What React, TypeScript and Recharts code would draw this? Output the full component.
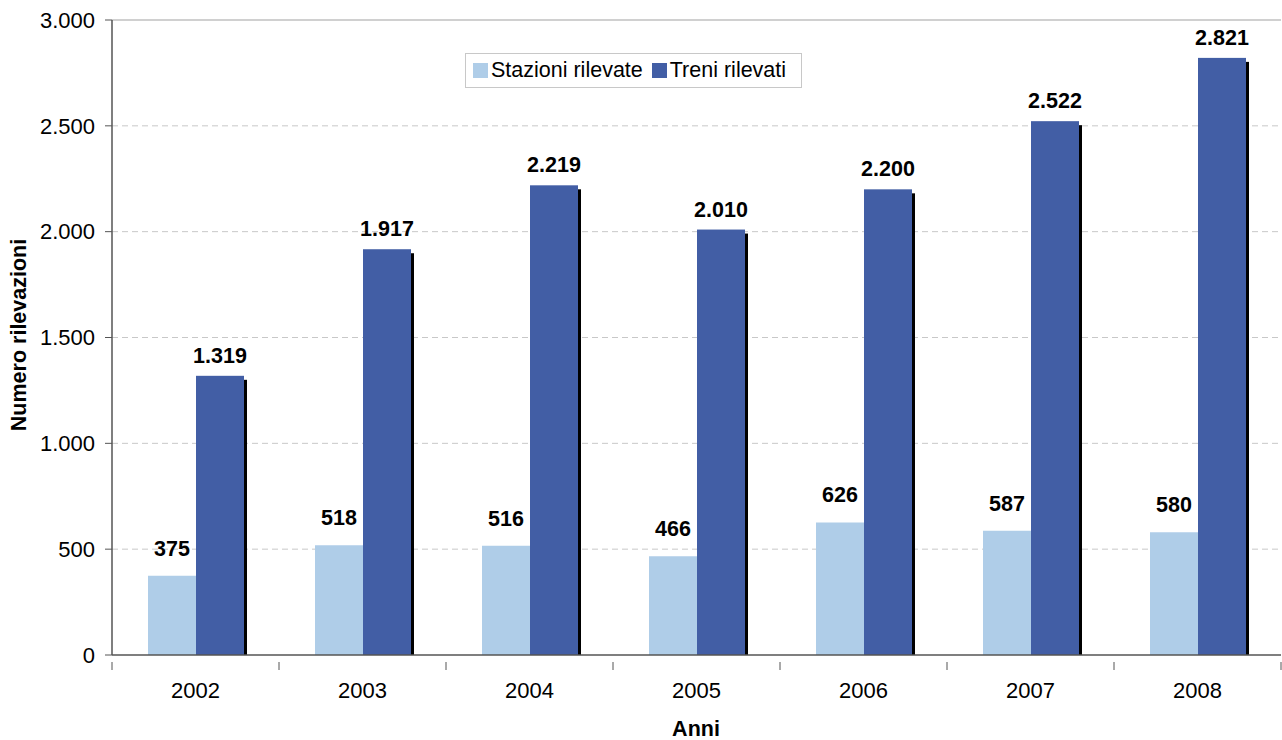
import {
  BarChart,
  Bar,
  XAxis,
  YAxis,
  CartesianGrid,
  ReferenceLine,
  LabelList,
  Label,
} from "recharts";

const anni = ["2002", "2003", "2004", "2005", "2006", "2007", "2008"];
const stazioniRilevate = [375, 518, 516, 466, 626, 587, 580];
const treniRilevati = [1319, 1917, 2219, 2010, 2200, 2522, 2821];
const yTicks = [0, 500, 1000, 1500, 2000, 2500, 3000];

const data = anni.map((anno, i) => ({
  anno,
  stazioni: stazioniRilevate[i],
  treni: treniRilevati[i],
}));

const LIGHT = "#AFCDE8";
const DARK = "#425EA5";
const AXIS = "#555555";
const FONT = "Arial, 'Liberation Sans', sans-serif";

const fmt = (v: number) => v.toLocaleString("it-IT");

// dark bar with a small black drop shadow on its right side
const ShadowBar = (props: any) => {
  const { x, y, width, height, fill } = props;
  if (height <= 0) return null;
  return (
    <g>
      <rect x={x + width} y={y + 4} width={3} height={height - 4} fill="#000" />
      <rect x={x} y={y} width={width} height={height} fill={fill} />
    </g>
  );
};

// year label at band centre, tick mark on the band's left edge
const YearTick = (props: any) => {
  const { x, y, payload, index, visibleTicksCount } = props;
  const half = payload.offset ?? 0;
  const left = x - half;
  const right = x + half;
  const last = index === (visibleTicksCount ?? anni.length) - 1;
  return (
    <g>
      <line x1={left} y1={y - 1} x2={left} y2={y + 7} stroke={AXIS} />
      {last && <line x1={right} y1={y - 1} x2={right} y2={y + 7} stroke={AXIS} />}
      <text x={x} y={y + 35} textAnchor="middle" fontSize={22} fill="#000" fontFamily={FONT}>
        {payload.value}
      </text>
    </g>
  );
};

const Legenda = () => (
  <div
    style={{
      position: "absolute",
      left: 465,
      top: 53,
      width: 337,
      height: 35,
      border: "1px solid #c8c8c8",
      background: "#fff",
      display: "flex",
      alignItems: "center",
      paddingLeft: 7,
      fontFamily: FONT,
      fontSize: 21.5,
      color: "#000",
      boxSizing: "border-box",
    }}
  >
    <span style={{ width: 15, height: 15, background: LIGHT, marginRight: 3 }} />
    <span style={{ marginRight: 9 }}>Stazioni rilevate</span>
    <span style={{ width: 15, height: 15, background: DARK, marginRight: 3 }} />
    <span>Treni rilevati</span>
  </div>
);

const labelStyle = { fontSize: 21.5, fontWeight: "bold", fill: "#000", fontFamily: FONT };

export default function App() {
  return (
    <div style={{ position: "absolute", left: 0, top: 0, width: 1282, height: 740, background: "#fff" }}>
      <BarChart
        width={1282}
        height={740}
        data={data}
        margin={{ top: 20, right: 1, left: 0, bottom: 0 }}
        barGap={0}
        barSize={48}
      >
        <CartesianGrid
          vertical={false}
          stroke="#c8c8c8"
          strokeDasharray="6 4"
          horizontalValues={[500, 1000, 1500, 2000, 2500]}
        />
        <ReferenceLine y={3000} stroke="#c0c0c0" strokeWidth={1.5} />
        <XAxis
          dataKey="anno"
          height={85}
          axisLine={{ stroke: AXIS, strokeWidth: 1.5 }}
          tickLine={false}
          tick={<YearTick />}
          interval={0}
        >
          <Label
            content={() => (
              <text x={696} y={736} textAnchor="middle" fontSize={21.5} fontWeight="bold" fontFamily={FONT}>
                Anni
              </text>
            )}
          />
        </XAxis>
        <YAxis
          width={112}
          domain={[0, 3000]}
          ticks={yTicks}
          interval={0}
          tickFormatter={fmt}
          axisLine={{ stroke: AXIS, strokeWidth: 1.5 }}
          tickLine={{ stroke: AXIS }}
          tickSize={7}
          tickMargin={10}
          tick={{ fontSize: 22, fill: "#000", fontFamily: FONT }}
        >
          <Label
            content={() => (
              <text
                x={26}
                y={335}
                transform="rotate(-90, 26, 335)"
                textAnchor="middle"
                fontSize={21.5}
                fontWeight="bold"
                fontFamily={FONT}
              >
                Numero rilevazioni
              </text>
            )}
          />
        </YAxis>
        <Bar dataKey="stazioni" fill={LIGHT} isAnimationActive={false}>
          <LabelList
            dataKey="stazioni"
            position="top"
            offset={20}
            formatter={(v: any) => fmt(Number(v))}
            style={labelStyle}
          />
        </Bar>
        <Bar dataKey="treni" fill={DARK} shape={<ShadowBar />} isAnimationActive={false}>
          <LabelList
            dataKey="treni"
            position="top"
            offset={13}
            formatter={(v: any) => fmt(Number(v))}
            style={labelStyle}
          />
        </Bar>
      </BarChart>
      <Legenda />
    </div>
  );
}
